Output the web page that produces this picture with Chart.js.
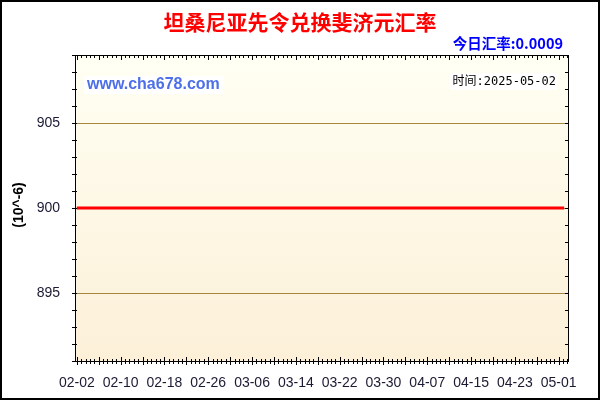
<!DOCTYPE html>
<html>
<head>
<meta charset="utf-8">
<script src="https://cdn.jsdelivr.net/npm/chart.js@4"></script>
<style>
  html, body { margin: 0; padding: 0; background: #fff; }
  #wrap { width: 600px; height: 400px; }
</style>
</head>
<body>
<div id="wrap"><canvas id="grafico" width="600" height="400"></canvas></div>
<script>
// Dados (taxa x 10^-6), um ponto por dia de 02-02 a 05-02
const rateValues = [
  900, 900, 900, 900, 900, 900, 900, 900, 900, 900,
  900, 900, 900, 900, 900, 900, 900, 900, 900, 900,
  900, 900, 900, 900, 900, 900, 900, 900, 900, 900,
  900, 900, 900, 900, 900, 900, 900, 900, 900, 900,
  900, 900, 900, 900, 900, 900, 900, 900, 900, 900,
  900, 900, 900, 900, 900, 900, 900, 900, 900, 900,
  900, 900, 900, 900, 900, 900, 900, 900, 900, 900,
  900, 900, 900, 900, 900, 900, 900, 900, 900, 900,
  900, 900, 900, 900, 900, 900, 900, 900, 900, 900
];
const tickDays = [0, 8, 16, 24, 32, 40, 48, 56, 64, 72, 80, 88];
const tickLabels = ['02-02', '02-10', '02-18', '02-26', '03-06', '03-14', '03-22', '03-30', '04-07', '04-15', '04-23', '05-01'];
const yTicks = [895, 900, 905];

const titulo = '坦桑尼亚先令兑换斐济元汇率';
const subtitulo = '今日汇率:0.0009';
const site = 'www.cha678.com';
const dataHora = '时间:2025-05-02';
const eixoY = '(10^-6)';

// Fundo, moldura, marcas dos eixos e textos
const molduraPlugin = {
  id: 'moldura',
  beforeDraw: function(chart) {
    const ctx = chart.ctx;
    const a = chart.chartArea;
    ctx.save();
    ctx.fillStyle = '#ffffff';
    ctx.fillRect(0, 0, chart.width, chart.height);
    const grad = ctx.createLinearGradient(0, a.top, 0, a.bottom);
    grad.addColorStop(0, '#fffff3');
    grad.addColorStop(1, '#fcf0d8');
    ctx.fillStyle = grad;
    ctx.fillRect(a.left, a.top, a.right - a.left, a.bottom - a.top);
    ctx.restore();
  },
  afterDraw: function(chart) {
    const ctx = chart.ctx;
    const a = chart.chartArea;
    const xs = chart.scales.x;
    const ys = chart.scales.y;
    ctx.save();

    // caixa do gráfico
    ctx.strokeStyle = '#000';
    ctx.lineWidth = 1;
    ctx.strokeRect(Math.round(a.left) + 0.5, Math.round(a.top) + 0.5, Math.round(a.right - a.left), Math.round(a.bottom - a.top));

    // marcas no eixo x (5 subdivisões a cada 4 dias)
    ctx.beginPath();
    for (let i = 0; i * 0.8 <= xs.max; i++) {
      const d = i * 0.8;
      const x = Math.round(xs.getPixelForValue(d)) + 0.5;
      const major = i % 5 === 0;
      ctx.moveTo(x, a.bottom - (major ? 4 : 2));
      ctx.lineTo(x, a.bottom + (major ? 4 : 3));
      ctx.moveTo(x, a.top);
      ctx.lineTo(x, a.top + (major ? 5 : 3));
    }
    // marcas no eixo y (uma por unidade)
    for (let v = Math.ceil(ys.min); v <= ys.max; v++) {
      const y = Math.round(ys.getPixelForValue(v)) + 0.5;
      ctx.moveTo(a.left - 3, y);
      ctx.lineTo(a.left + 2, y);
      ctx.moveTo(a.right - 3, y);
      ctx.lineTo(a.right, y);
    }
    ctx.stroke();

    // título e subtítulo
    ctx.textBaseline = 'middle';
    ctx.fillStyle = '#ff0000';
    ctx.font = 'bold 21px "Noto Sans CJK SC"';
    ctx.textAlign = 'center';
    ctx.fillText(titulo, 300, 22);

    ctx.fillStyle = '#0000ff';
    ctx.font = 'bold 14.5px "Noto Sans CJK SC"';
    ctx.textAlign = 'right';
    ctx.fillText(subtitulo, 563, 43);

    // site com caixa branca
    ctx.font = 'bold 16px "Liberation Sans"';
    ctx.textAlign = 'left';
    const w = ctx.measureText(site).width;
    ctx.fillStyle = '#ffffff';
    ctx.fillRect(a.left + 9, 76, w + 7, 18);
    ctx.fillStyle = '#4d6fe8';
    ctx.fillText(site, a.left + 12, 85);

    // data
    ctx.font = '12px "DejaVu Sans Mono", "Noto Sans CJK SC"';
    ctx.textAlign = 'right';
    const w2 = ctx.measureText(dataHora).width;
    ctx.fillStyle = '#ffffff';
    ctx.fillRect(556 - w2 - 3, 73, w2 + 5, 17);
    ctx.fillStyle = '#000';
    ctx.fillText(dataHora, 556, 81.5);

    // título do eixo y
    ctx.translate(19, 205);
    ctx.rotate(-Math.PI / 2);
    ctx.textAlign = 'center';
    ctx.font = 'bold 14px "Liberation Sans"';
    ctx.fillText(eixoY, 0, 0);
    ctx.setTransform(1, 0, 0, 1, 0, 0);

    // borda externa
    ctx.lineWidth = 2;
    ctx.strokeRect(1, 1, chart.width - 2, chart.height - 2);
    ctx.restore();
  }
};

const ctx = document.getElementById('grafico').getContext('2d');
new Chart(ctx, {
  type: 'line',
  data: {
    datasets: [{
      data: rateValues.map((v, i) => ({ x: i, y: v })),
      borderColor: '#ff0000',
      borderWidth: 3,
      pointRadius: 0,
      fill: false,
      tension: 0
    }]
  },
  options: {
    responsive: false,
    animation: false,
    layout: { padding: { top: 55, right: 32, left: 0, bottom: 0 } },
    plugins: {
      legend: { display: false },
      tooltip: { enabled: false }
    },
    scales: {
      x: {
        type: 'linear',
        min: -0.33,
        max: 89.7,
        afterFit: function(s) { s.height = 39; },
        afterBuildTicks: function(s) { s.ticks = tickDays.map(v => ({ value: v })); },
        ticks: {
          callback: function(value) { return tickLabels[tickDays.indexOf(value)]; },
          maxRotation: 0,
          autoSkip: false,
          padding: 6,
          color: '#1a1a33',
          font: { family: 'Liberation Sans', size: 14 }
        },
        grid: { display: false },
        border: { display: false }
      },
      y: {
        min: 891,
        max: 909,
        afterFit: function(s) { s.width = 75; },
        afterBuildTicks: function(s) { s.ticks = yTicks.map(v => ({ value: v })); },
        ticks: {
          padding: 15,
          color: '#1a1a33',
          font: { family: 'Liberation Sans', size: 14 }
        },
        grid: { color: '#a8863a', drawTicks: false, lineWidth: 1 },
        border: { display: false }
      }
    }
  },
  plugins: [molduraPlugin]
});
</script>
</body>
</html>
